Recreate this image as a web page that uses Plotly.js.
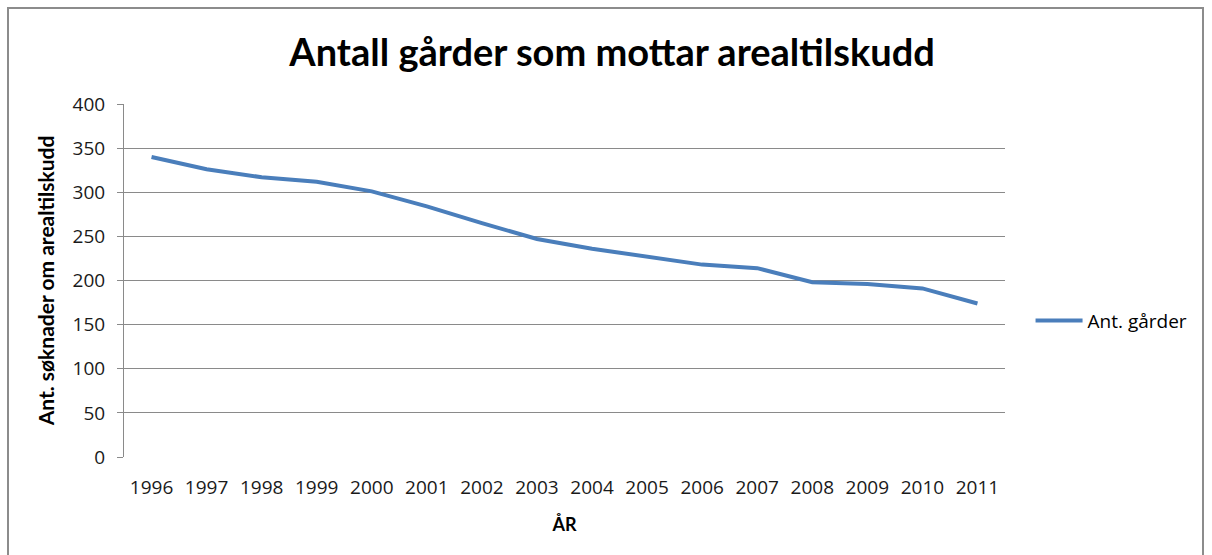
<!DOCTYPE html>
<html>
<head>
<meta charset="utf-8">
<script src="https://cdn.plot.ly/plotly-3.0.1.min.js"></script>
<style>
  html, body { margin: 0; padding: 0; background: #ffffff; }
  #wrap { position: relative; width: 1212px; height: 555px; overflow: hidden; }
  #chart { width: 1212px; height: 555px; }
  #frame { position: absolute; left: 7px; top: 7px; width: 1197px; height: 560px; border: 2px solid #8c8c8c; box-sizing: border-box; pointer-events: none; }
</style>
</head>
<body>
<div id="wrap">
  <div id="chart"></div>
  <div id="frame"></div>
</div>
<script>
const years = ["1996","1997","1998","1999","2000","2001","2002","2003","2004","2005","2006","2007","2008","2009","2010","2011"];
const antGarder = [340, 326, 317, 312, 301, 284, 265, 247, 236, 227, 218, 214, 198, 196, 191, 174];
const yTicks = [0, 50, 100, 150, 200, 250, 300, 350, 400];

const TFONT = "Lato, 'Open Sans', sans-serif";
const LFONT = "'Open Sans', Lato, sans-serif";

const trace = {
  type: "scatter",
  mode: "lines",
  x: years,
  y: antGarder,
  name: "Ant. gårder",
  line: { color: "#4a7ebb", width: 4 }
};

const layout = {
  width: 1212,
  height: 555,
  paper_bgcolor: "#ffffff",
  plot_bgcolor: "#ffffff",
  margin: { l: 124, r: 207, t: 104, b: 98 },
  title: {
    text: "<b>Antall gårder som mottar arealtilskudd</b>",
    font: { family: TFONT, size: 38, color: "#000000" },
    x: 0.505, xanchor: "center",
    y: 0.905, yanchor: "middle"
  },
  showlegend: true,
  legend: {
    x: 1.029, xanchor: "left",
    y: 0.386, yanchor: "middle",
    itemwidth: 47,
    font: { family: LFONT, size: 19, color: "#000000" },
    bgcolor: "rgba(0,0,0,0)"
  },
  xaxis: {
    type: "category",
    tickvals: years,
    ticktext: years,
    showgrid: false,
    showline: false,
    zeroline: false,
    ticks: "",
    ticklabelstandoff: 17,
    tickfont: { family: LFONT, size: 19, color: "#1a1a1a" },
    title: { text: "<b>ÅR</b>", font: { family: TFONT, size: 18, color: "#000000" }, standoff: 19 },
    range: [-0.5, years.length - 0.5],
    fixedrange: true
  },
  yaxis: {
    range: [0, 400],
    tickvals: yTicks,
    ticktext: yTicks.map(String),
    showgrid: true,
    gridcolor: "#8a8a8a",
    gridwidth: 1,
    showline: true,
    linecolor: "#8a8a8a",
    linewidth: 1,
    zeroline: false,
    ticks: "outside",
    ticklen: 6,
    tickcolor: "#8a8a8a",
    ticklabelstandoff: 8,
    tickfont: { family: LFONT, size: 19, color: "#1a1a1a" },
    title: { text: "<b>Ant. søknader om arealtilskudd</b>", font: { family: TFONT, size: 21, color: "#000000" }, standoff: 12 },
    fixedrange: true
  }
};

Plotly.newPlot("chart", [trace], layout, { displayModeBar: false, staticPlot: true });
</script>
</body>
</html>
